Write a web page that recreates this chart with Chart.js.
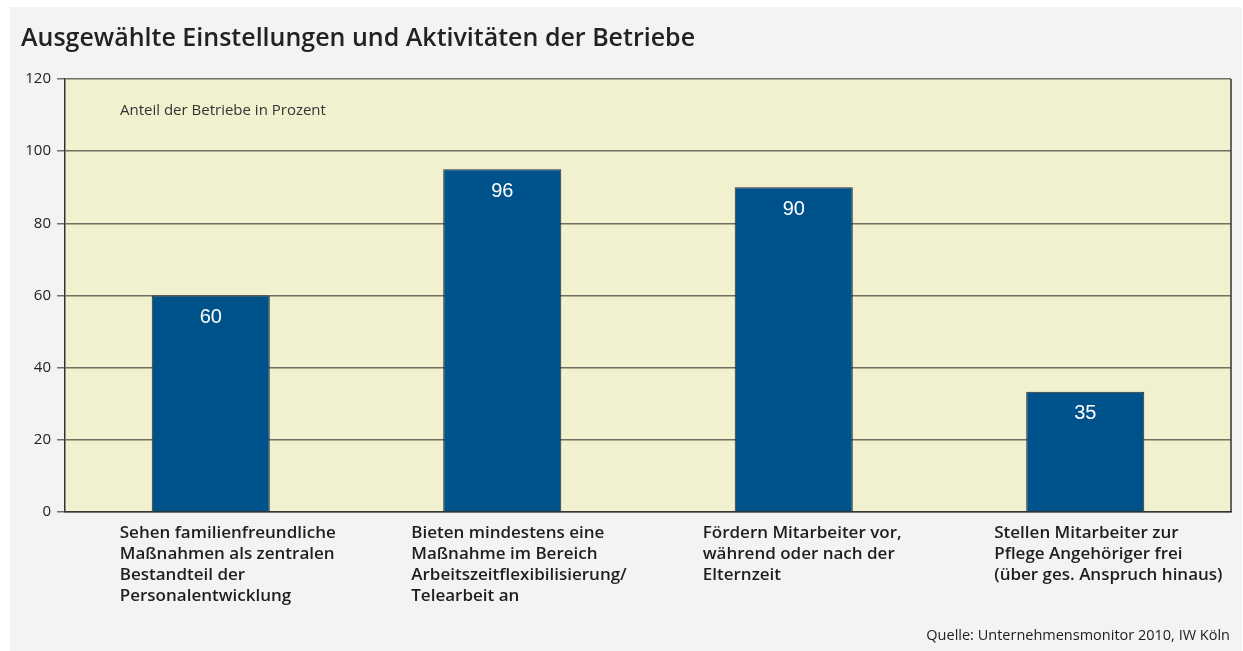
<!DOCTYPE html>
<html>
<head>
<meta charset="utf-8">
<script src="https://cdn.jsdelivr.net/npm/chart.js@4"></script>
<style>
  html, body { margin: 0; padding: 0; background: #fff; }
  #wrap { width: 1243px; height: 651px; }
</style>
</head>
<body>
<div id="wrap"><canvas id="chart" width="1243" height="651"></canvas></div>
<script>
'use strict'

// data
const categories = [
    ['Sehen familienfreundliche', 'Maßnahmen als zentralen', 'Bestandteil der', 'Personalentwicklung'],
    ['Bieten mindestens eine', 'Maßnahme im Bereich', 'Arbeitszeitflexibilisierung/', 'Telearbeit an'],
    ['Fördern Mitarbeiter vor,', 'während oder nach der', 'Elternzeit'],
    ['Stellen Mitarbeiter zur', 'Pflege Angehöriger frei', '(über ges. Anspruch hinaus)']
];
const barValues = [60, 95, 90, 33.3];       // bar heights as drawn
const valueLabels = ['60', '96', '90', '35']; // printed numbers
const yTicks = [0, 20, 40, 60, 80, 100, 120];

const titleText = 'Ausgewählte Einstellungen und Aktivitäten der Betriebe';
const unitText = 'Anteil der Betriebe in Prozent';
const sourceText = 'Quelle: Unternehmensmonitor 2010, IW Köln';

const deco = {
    id: 'deco',
    beforeDraw(chart) {
        const c = chart.ctx, a = chart.chartArea;
        c.save();
        c.fillStyle = '#ffffff';
        c.fillRect(0, 0, chart.width, chart.height);
        c.fillStyle = '#f2f3f2';
        c.fillRect(10, 7, chart.width - 11, chart.height - 7);
        c.fillStyle = '#f1f1cf';
        c.fillRect(a.left, a.top, a.right - a.left, a.bottom - a.top);
        c.restore();
    },
    afterDraw(chart) {
        const c = chart.ctx, a = chart.chartArea;
        const xs = chart.scales.x, ys = chart.scales.y;
        c.save();
        // right border
        c.strokeStyle = '#333';
        c.lineWidth = 1.5;
        c.beginPath();
        c.moveTo(a.right, a.top);
        c.lineTo(a.right, a.bottom);
        c.stroke();

        // title
        c.fillStyle = '#222';
        c.textBaseline = 'alphabetic';
        c.textAlign = 'left';
        c.font = '600 25px "Open Sans"';
        c.fillText(titleText, 21, 46);

        // unit note
        c.font = '15px "Open Sans"';
        c.fillStyle = '#333';
        c.textBaseline = 'middle';
        c.fillText(unitText, 120, 111);

        // category labels
        c.font = '600 17px "Open Sans"';
        c.fillStyle = '#1e1e1e';
        categories.forEach((lines, i) => {
            const x = xs.getPixelForValue(i) - 91;
            lines.forEach((t, j) => c.fillText(t, x, a.bottom + 21 + j * 21));
        });

        // values inside bars
        c.font = '20px "Liberation Sans"';
        c.fillStyle = '#ffffff';
        c.textAlign = 'center';
        barValues.forEach((v, i) => {
            c.fillText(valueLabels[i], xs.getPixelForValue(i), ys.getPixelForValue(v) + 22);
        });

        // source
        c.font = '14.5px "Open Sans"';
        c.fillStyle = '#222';
        c.textAlign = 'right';
        c.fillText(sourceText, 1230, 636);
        c.restore();
    }
};

const ctx = document.getElementById('chart').getContext('2d');
const chart = new Chart(ctx, {
    type: 'bar',
    data: {
        labels: categories.map(l => l.join(' ')),
        datasets: [{
            data: barValues,
            backgroundColor: '#00528b',
            borderColor: '#2b2b2b',
            borderWidth: 1,
            borderSkipped: 'bottom',
            categoryPercentage: 1,
            barPercentage: 0.405
        }]
    },
    options: {
        responsive: false,
        animation: false,
        devicePixelRatio: 1,
        layout: { padding: { top: 79, right: 12, left: 0, bottom: 0 } },
        plugins: { legend: { display: false }, tooltip: { enabled: false } },
        scales: {
            x: {
                grid: { display: false },
                border: { color: '#333', width: 1.5 },
                ticks: { display: false },
                afterFit: s => { s.height = 139; }
            },
            y: {
                min: 0,
                max: 120,
                afterBuildTicks: s => { s.ticks = yTicks.map(v => ({ value: v })); },
                afterFit: s => { s.width = 65; },
                grid: { color: '#6f6f62', lineWidth: 1.5, tickLength: 8 },
                border: { color: '#333', width: 1.5 },
                ticks: {
                    color: '#222',
                    padding: 6,
                    font: { family: '"Open Sans"', size: 15 }
                }
            }
        }
    },
    plugins: [deco]
});
</script>
</body>
</html>
